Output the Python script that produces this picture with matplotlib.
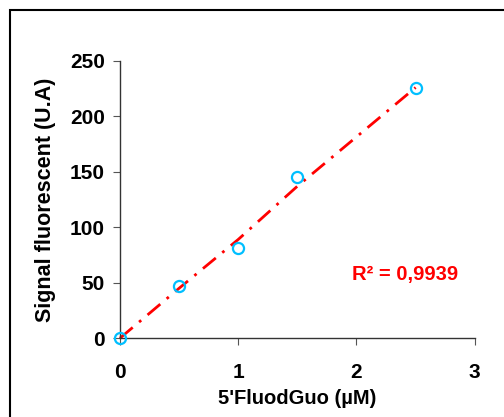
import numpy as np
import matplotlib.pyplot as plt
from matplotlib.patches import Rectangle

# data
conc = [0, 0.5, 1, 1.5, 2.5]
signal = [0, 47, 81, 145, 226]
fit_y = [0, 45, 89, 137, 226]
r2_text = 'R\u00b2 = 0,9939'

plt.rcParams['font.family'] = ['Liberation Sans', 'DejaVu Sans']
plt.rcParams['font.weight'] = 'bold'

fig = plt.figure(figsize=(5.04, 4.17), dpi=100)
ax = fig.add_axes([0.238, 0.189, 0.704, 0.665])

# outer frame (right/bottom run off the image)
fig.patches.append(Rectangle((10/504, -0.2), 1.2, 1 - 10/417 + 0.2,
                             transform=fig.transFigure, fill=False,
                             edgecolor='black', linewidth=1.5))

ax.plot(conc, fit_y, color='red', linestyle=(0, (6, 3, 1, 3)), linewidth=2, clip_on=False, zorder=2)
ax.plot(conc, signal, linestyle='none', marker='o', markersize=8, markerfacecolor='none',
        markeredgecolor='#00BFFF', markeredgewidth=1.6, clip_on=False, zorder=3)

ax.set_xlim(0, 3)
ax.set_ylim(0, 250)
ax.set_xticks([0, 1, 2, 3])
ax.set_yticks([0, 50, 100, 150, 200, 250])
for s in ['top', 'right']:
    ax.spines[s].set_visible(False)
for s in ['left', 'bottom']:
    ax.spines[s].set_color('#333333')
    ax.spines[s].set_linewidth(1)
ax.tick_params(axis='x', length=5, pad=13, labelsize=15, color='#555555')
ax.tick_params(axis='y', length=5, pad=6, labelsize=15, color='#555555')

ax.set_xlabel("5'FluodGuo (µM)", fontsize=14.5, fontweight='bold', labelpad=5)
ax.set_ylabel('Signal fluorescent (U.A)', fontsize=15.5, fontweight='bold', labelpad=10)

ax.text(1.96, 57, r2_text, color='red', fontsize=14.5, fontweight='bold', va='center')

fig.savefig('out.png', dpi=100)
